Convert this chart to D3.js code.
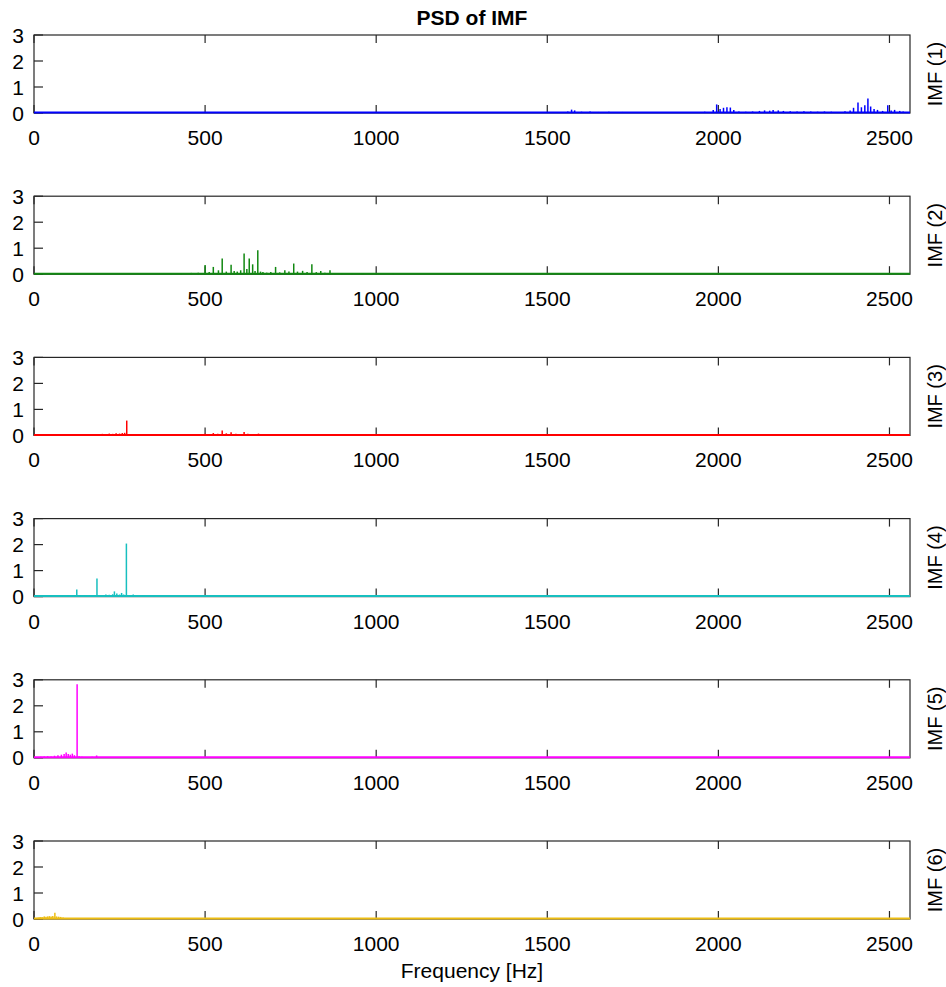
<!DOCTYPE html>
<html>
<head>
<meta charset="utf-8">
<script src="https://cdn.jsdelivr.net/npm/d3@7"></script>
<style>
  html, body { margin: 0; padding: 0; background: #fff; }
  svg { display: block; font-family: "Liberation Sans", Arial, sans-serif; }
</style>
</head>
<body>
<svg id="chart" width="946" height="987"></svg>
<script>
// Power spectral density of each intrinsic mode function (IMF)
const imfLabels = ["IMF (1)", "IMF (2)", "IMF (3)", "IMF (4)", "IMF (5)", "IMF (6)"];
const xTicks = [0, 500, 1000, 1500, 2000, 2500];
const yTicks = [0, 1, 2, 3];

// IMF 1: high-frequency band
const imf1Freq = [1540, 1560, 1571, 1580, 1600, 1625, 1650, 1680, 1720, 1760, 1800, 1850, 1900, 1960, 1985, 1995, 2005, 2015, 2025, 2035, 2045, 2060, 2080, 2100, 2120, 2135, 2150, 2160, 2175, 2190, 2210, 2230, 2250, 2270, 2290, 2310, 2330, 2350, 2370, 2385, 2395, 2408, 2418, 2428, 2437, 2445, 2455, 2465, 2480, 2495, 2505, 2515, 2530, 2540];
const imf1Psd  = [0.04, 0.06, 0.13, 0.10, 0.05, 0.06, 0.04, 0.05, 0.04, 0.03, 0.03, 0.03, 0.03, 0.05, 0.12, 0.33, 0.15, 0.20, 0.22, 0.21, 0.12, 0.06, 0.05, 0.06, 0.08, 0.10, 0.09, 0.12, 0.10, 0.08, 0.07, 0.06, 0.07, 0.06, 0.05, 0.06, 0.05, 0.04, 0.07, 0.10, 0.20, 0.40, 0.22, 0.30, 0.56, 0.25, 0.15, 0.12, 0.08, 0.30, 0.10, 0.12, 0.08, 0.06];

// IMF 2
const imf2Freq = [400, 430, 460, 480, 500, 512, 524, 539, 550, 562, 576, 585, 594, 604, 614, 622, 629, 639, 646, 654, 662, 669, 680, 692, 706, 718, 733, 745, 759, 770, 785, 798, 812, 825, 838, 850, 865, 880, 900, 930, 960, 1000, 1050];
const imf2Psd  = [0.03, 0.04, 0.05, 0.06, 0.35, 0.08, 0.28, 0.15, 0.60, 0.10, 0.36, 0.12, 0.10, 0.15, 0.80, 0.20, 0.60, 0.38, 0.12, 0.92, 0.10, 0.08, 0.06, 0.08, 0.28, 0.07, 0.15, 0.10, 0.41, 0.10, 0.13, 0.08, 0.38, 0.08, 0.12, 0.06, 0.15, 0.05, 0.04, 0.04, 0.03, 0.03, 0.02];

// IMF 3
const imf3Freq = [150, 170, 190, 200, 210, 220, 230, 240, 250, 258, 265, 271, 280, 300, 330, 360, 400, 430, 460, 480, 500, 510, 524, 537, 550, 562, 576, 590, 600, 614, 625, 640, 656, 670];
const imf3Psd  = [0.02, 0.03, 0.04, 0.06, 0.05, 0.07, 0.06, 0.08, 0.07, 0.09, 0.10, 0.57, 0.04, 0.03, 0.03, 0.03, 0.04, 0.03, 0.05, 0.04, 0.06, 0.05, 0.09, 0.06, 0.19, 0.08, 0.12, 0.06, 0.04, 0.13, 0.06, 0.05, 0.07, 0.03];

// IMF 4
const imf4Freq = [20, 50, 80, 100, 115, 125, 135, 150, 165, 184, 195, 210, 220, 230, 235, 242, 250, 256, 262, 270, 280, 290, 300, 320, 350];
const imf4Psd  = [0.02, 0.03, 0.04, 0.05, 0.04, 0.27, 0.05, 0.04, 0.05, 0.70, 0.05, 0.08, 0.07, 0.09, 0.20, 0.12, 0.08, 0.14, 0.08, 2.04, 0.05, 0.08, 0.05, 0.03, 0.02];

// IMF 5
const imf5Freq = [10, 20, 30, 40, 50, 60, 70, 80, 88, 94, 100, 106, 112, 118, 126, 132, 140, 150, 160, 170, 183, 195];
const imf5Psd  = [0.03, 0.04, 0.05, 0.06, 0.05, 0.08, 0.10, 0.12, 0.15, 0.20, 0.15, 0.12, 0.16, 0.10, 2.83, 0.06, 0.04, 0.03, 0.03, 0.04, 0.09, 0.02];

// IMF 6: lowest-frequency mode
const imf6Freq = [5, 10, 15, 20, 25, 30, 35, 40, 45, 50, 55, 61, 66, 72, 78, 85, 90, 95, 100];
const imf6Psd  = [0.02, 0.05, 0.07, 0.08, 0.07, 0.10, 0.09, 0.10, 0.11, 0.10, 0.12, 0.24, 0.10, 0.09, 0.08, 0.06, 0.04, 0.03, 0.02];

const freqs = [imf1Freq, imf2Freq, imf3Freq, imf4Freq, imf5Freq, imf6Freq];
const psds = [imf1Psd, imf2Psd, imf3Psd, imf4Psd, imf5Psd, imf6Psd];
const colors = ["#0000ff", "#118811", "#ff0000", "#17bfbf", "#ff00ff", "#edbd12"];

const svg = d3.select("#chart");
const left = 34, right = 910, panelH = 78, firstTop = 35, step = 161.2;
const axisColor = "#262626";

const x = d3.scaleLinear().domain([0, 2560]).range([left, right]);

svg.append("text")
  .attr("x", (left + right) / 2).attr("y", 25)
  .attr("text-anchor", "middle")
  .attr("font-size", 21).attr("font-weight", "bold")
  .attr("fill", "#000")
  .text("PSD of IMF");

imfLabels.forEach((label, i) => {
  const top = firstTop + i * step;
  const bottom = top + panelH;
  const y = d3.scaleLinear().domain([0, 3]).range([bottom, top]);
  const g = svg.append("g");

  // frame box
  g.append("rect")
    .attr("x", left).attr("y", top)
    .attr("width", right - left).attr("height", panelH)
    .attr("fill", "none").attr("stroke", axisColor).attr("stroke-width", 1.2);

  // x ticks (inward, bottom and top)
  const xt = g.selectAll("g.xt").data(xTicks).join("g").attr("class", "xt");
  xt.append("line")
    .attr("x1", d => x(d)).attr("x2", d => x(d))
    .attr("y1", bottom).attr("y2", bottom - 8)
    .attr("stroke", axisColor).attr("stroke-width", 1.2);
  xt.append("line")
    .attr("x1", d => x(d)).attr("x2", d => x(d))
    .attr("y1", top).attr("y2", top + 8)
    .attr("stroke", axisColor).attr("stroke-width", 1.2);
  xt.append("text")
    .attr("x", d => x(d)).attr("y", bottom + 32)
    .attr("text-anchor", "middle")
    .attr("font-size", 21).attr("fill", "#000")
    .text(d => d);

  // y ticks (inward, left side)
  const yt = g.selectAll("g.yt").data(yTicks).join("g").attr("class", "yt");
  yt.append("line")
    .attr("x1", left).attr("x2", left + 9)
    .attr("y1", d => y(d)).attr("y2", d => y(d))
    .attr("stroke", axisColor).attr("stroke-width", 1.2);
  yt.append("text")
    .attr("x", left - 10).attr("y", d => y(d))
    .attr("dy", "0.36em")
    .attr("text-anchor", "end")
    .attr("font-size", 21).attr("fill", "#000")
    .text(d => d);

  // spectrum: baseline plus one stem per spectral line, drawn over the frame
  const pts = freqs[i].map((f, k) => ({ f, v: psds[i][k] }));
  g.append("line")
    .attr("x1", x(0)).attr("x2", x(2560))
    .attr("y1", y(0) - 0.5).attr("y2", y(0) - 0.5)
    .attr("stroke", colors[i]).attr("stroke-width", 2);
  g.selectAll("line.stem").data(pts).join("line")
    .attr("class", "stem")
    .attr("x1", d => x(d.f)).attr("x2", d => x(d.f))
    .attr("y1", y(0)).attr("y2", d => y(d.v))
    .attr("stroke", colors[i]).attr("stroke-width", 1.5);

  // panel label on the right
  g.append("text")
    .attr("transform", `translate(942,${(top + bottom) / 2}) rotate(-90)`)
    .attr("text-anchor", "middle")
    .attr("font-size", 20).attr("fill", "#000")
    .text(label);
});

svg.append("text")
  .attr("x", (left + right) / 2).attr("y", 978)
  .attr("text-anchor", "middle")
  .attr("font-size", 21).attr("fill", "#000")
  .text("Frequency [Hz]");
</script>
</body>
</html>
